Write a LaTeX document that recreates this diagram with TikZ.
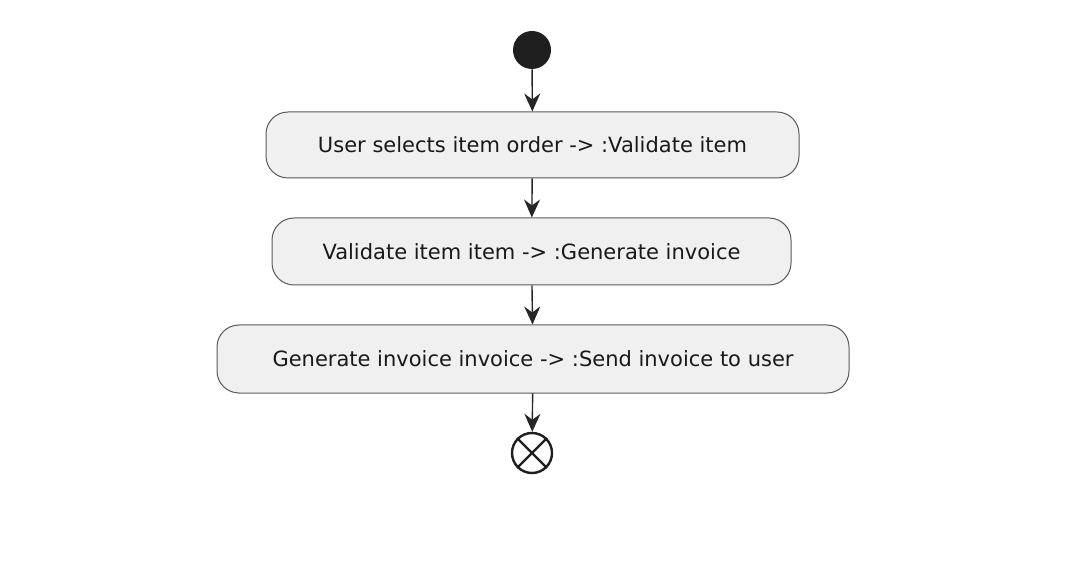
\documentclass[tikz,border=0pt]{standalone}
\usepackage{fontspec}
\setmainfont{DejaVu Sans}
\usetikzlibrary{arrows.meta}
\begin{document}
\begin{tikzpicture}[x=0.5pt,y=-0.5pt,
  act/.style={draw=black!65,fill=black!6,rounded corners=11pt,line width=0.5pt,
    inner sep=0pt,font=\fontsize{10.5}{12}\selectfont,text=black!90},
  flow/.style={draw=black!85,line width=0.7pt,-{Stealth[length=9pt,width=8pt,inset=3pt]}}]
\useasboundingbox (0,0) rectangle (1080,566);
\node[circle,fill=black!88,minimum size=19pt,inner sep=0pt] (start) at (532,50) {};
\node[act,minimum width=266.5pt,minimum height=33pt] (a1) at (532.5,145) {User selects item order -> :Validate item};
\node[act,minimum width=259.5pt,minimum height=33.5pt] (a2) at (531.5,251.5) {Validate item item -> :Generate invoice};
\node[act,minimum width=316pt,minimum height=34pt] (a3) at (533,359) {Generate invoice invoice -> :Send invoice to user};
\node[circle,draw=black!88,fill=white,line width=1.2pt,minimum size=20pt,inner sep=0pt] (stop) at (532,453) {};
\draw[black!88,line width=1.2pt] (stop.north east)--(stop.south west) (stop.north west)--(stop.south east);
\draw[flow] (start) -- (a1);
\draw[flow] (a1) -- (a2);
\draw[flow] (a2) -- (a3);
\draw[flow] (a3) -- (stop);
\end{tikzpicture}
\end{document}
